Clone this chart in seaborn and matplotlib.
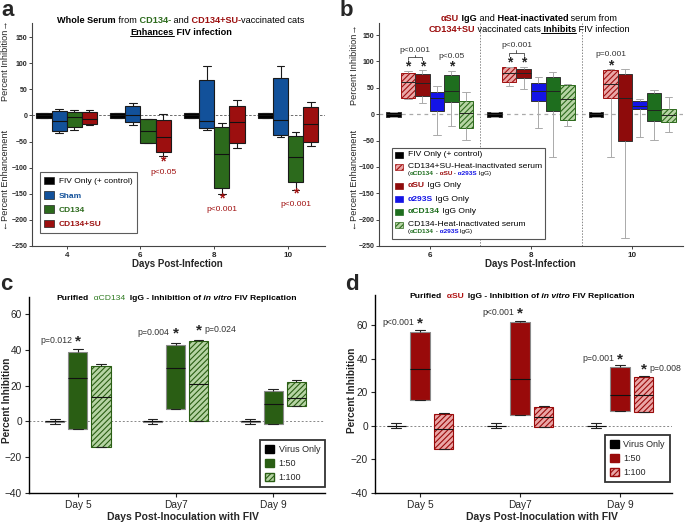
import numpy as np
import pandas as pd
import matplotlib.pyplot as plt
import seaborn as sns
from matplotlib.patches import Patch, Rectangle
from matplotlib.lines import Line2D
from matplotlib.colors import to_rgb

# ---------------- data: each box = (whisker low, Q1, median, Q3, whisker high) ----------------
# panel a - whole serum
a_days = ['4', '6', '8', '10']
a_fiv = [(-4.5, -4.5, 0, 4.5, 4.5), (-4.5, -4.5, 0, 4.5, 4.5), (-4.5, -4.5, 0, 4.5, 4.5), (-4.5, -4.5, 0, 4.5, 4.5)]
a_sham = [(-34.5, -30, -11, 8, 12), (-18.6, -13.4, 0.6, 18.4, 23), (-28, -24, -11, 67, 94), (-42, -36.5, -8, 72, 94)]
a_cd134 = [(-28, -22, -2.6, 6, 10), (-53, -52, -30, -7.7, -7.7), (-151, -139, -74, -22, -14), (-142, -128, -79, -40, -31)]
a_cd134su = [(-18, -17, -7.7, 6.6, 10), (-78, -70, -42, -9, 2), (-63, -52, -13.5, 18.6, 29.5), (-58, -51, -17, 16, 25)]

# panel b - IgG and heat-inactivated serum
b_days = ['6', '8', '10']
b_fiv = [(-4.5, -4.5, 0, 4.5, 4.5), (-4.5, -4.5, 0, 4.5, 4.5), (-4.5, -4.5, 0, 4.5, 4.5)]
b_hi_su = [(29.4, 30.7, 61, 78.7, 82.5), (54, 62, 79, 89, 89), (-82, 31, 58, 84.5, 86)]
b_asu = [(21.8, 34.5, 60, 76, 84), (48, 68.7, 78, 86, 89), (-234, -50, 30, 77, 86)]
b_a293s = [(-39, 5.4, 30.7, 42.7, 53.5), (-26, 25, 44.6, 58.5, 71), (-44, 9, 16, 25, 28)]
b_acd134 = [(-21.8, 23.7, 44.6, 73.7, 82.5), (-80.6, 5.3, 44.6, 71, 81), (-49, -13, 8.5, 41, 46)]
b_hi_cd134 = [(-49, -27, 1.5, 25, 41.4), (-22, -11, 29, 54.7, 57), (-34.5, -15.5, -1, 10, 32)]

# panel c - purified aCD134 IgG
c_days = ['Day 5', 'Day7', 'Day 9']
c_virus = [(-1.5, -0.2, 0, 0.2, 1.5), (-1.5, -0.2, 0, 0.2, 1.5), (-1.5, -0.2, 0, 0.2, 1.5)]
c_50 = [(-4, -4, 24, 38.8, 40.3), (7.2, 7.2, 29.7, 42.8, 43.7), (-1.5, -1.5, 9.7, 17, 18)]
c_100 = [(-14.5, -14.5, 13.4, 31, 31.8), (0.5, 0.5, 20.8, 44.8, 45.5), (8.4, 8.4, 13.2, 22, 23.2)]

# panel d - purified aSU IgG
d_days = ['Day 5', 'Day7', 'Day 9']
d_virus = [(-1.5, -0.2, 0, 0.2, 1.5), (-1.5, -0.2, 0, 0.2, 1.5), (-1.5, -0.2, 0, 0.2, 1.5)]
d_50 = [(15.3, 15.3, 34, 56, 57), (6.4, 6.4, 28, 62.2, 62.6), (9, 9, 18.3, 35.2, 36)]
d_100 = [(-14, -14, -2, 6.8, 7.8), (-0.6, -0.6, 5.4, 11.3, 12), (8, 8, 18.7, 29.2, 30)]

# colours
BLACK = '#000000'
SHAM_BLUE = '#12519a'
GREEN = '#2c6a1c'
RED = '#9c0f0f'
BRIGHT_BLUE = '#1414e6'
PINK = '#eaa6a6'
PALE_GREEN = '#b6d4a4'
C_GREEN = '#2a5e14'

W, H = 685, 523

sns.set_style('ticks')
plt.rcParams['font.family'] = ['Liberation Sans', 'DejaVu Sans']
plt.rcParams['hatch.linewidth'] = 0.8


def long_table(days, series):
    rows = []
    for name, stats in series.items():
        for day, five in zip(days, stats):
            for v in five:
                rows.append((day, name, v))
    return pd.DataFrame(rows, columns=['day', 'group', 'value'])


def draw_boxes(ax, df, days, palette, width, gap, edge, whisker, median, lw=0.8):
    sns.boxplot(data=df, x='day', y='value', hue='group', order=days,
                hue_order=list(palette.keys()), palette=palette, width=width, gap=gap,
                whis=(0, 100), saturation=1, linewidth=lw, linecolor=edge, fliersize=0,
                whiskerprops=dict(color=whisker), capprops=dict(color=whisker),
                medianprops=dict(color=median), legend=False, ax=ax)


def add_hatch(ax, face, hatch_color):
    for p in ax.patches:
        if np.allclose(p.get_facecolor()[:3], to_rgb(face), atol=0.01):
            p.set_hatch('//////')
            p.set_edgecolor(hatch_color)


def offset(i, n, width):
    return -width / 2 + width / n * (i + 0.5)


def rect(l, t, r, b):
    return [l / W, 1 - b / H, (r - l) / W, (b - t) / H]


def rich_text(fig, x, y, parts, size, ha='center'):
    # parts: (text, colour, weight, style); x, y in figure pixels from top-left
    r = fig.canvas.get_renderer()
    texts = [fig.text(0, 1 - y / H, s, fontsize=size, color=c, fontweight=w, fontstyle=st,
                      ha='left', va='center', zorder=5) for s, c, w, st in parts]
    widths = [t.get_window_extent(r).width for t in texts]
    x0 = x - sum(widths) / 2 if ha == 'center' else x
    for t, w in zip(texts, widths):
        t.set_x(x0 / W)
        x0 += w
    return texts


def underline(fig, t):
    bb = t.get_window_extent(fig.canvas.get_renderer())
    fig.add_artist(Line2D([bb.x0 / W, bb.x1 / W], [(bb.y0 + 0.6) / H] * 2,
                          transform=fig.transFigure, color='k', lw=0.7))


fig = plt.figure(figsize=(W / 100, H / 100), dpi=100)
ax_a = fig.add_axes(rect(32, 23, 325, 246))
ax_b = fig.add_axes(rect(379, 23, 683, 246))
ax_c = fig.add_axes(rect(29, 297, 325, 493))
ax_d = fig.add_axes(rect(375, 295, 672, 493))

# ---------------- panel a ----------------
pal_a = {'FIV Only (+ control)': BLACK, 'Sham': SHAM_BLUE, 'CD134': GREEN, 'CD134+SU': RED}
df_a = long_table(a_days, dict(zip(pal_a.keys(), [a_fiv, a_sham, a_cd134, a_cd134su])))
ax_a.axhline(0, color='#555555', lw=0.6, ls=(0, (3, 2)), zorder=0)
draw_boxes(ax_a, df_a, a_days, pal_a, 0.82, 0, '#1a1a1a', '#1a1a1a', '#111111')
ax_a.set_xlim(-0.47, 3.5)
ax_a.set_ylim(-250, 177)
ax_a.set_yticks(np.arange(-250, 151, 50))

for day, idx, ys, yp, txt in [(1, 3, -89, -110, 'p<0.05'), (2, 2, -159, -181, 'p<0.001'),
                              (3, 2, -150, -171, 'p<0.001')]:
    xx = day + offset(idx, 4, 0.82)
    ax_a.text(xx, ys, '*', color='#a01010', fontsize=10, fontweight='bold', ha='center', va='center')
    ax_a.text(xx, yp, txt, color='#a01010', fontsize=6, ha='center', va='center')

handles_a = [Patch(facecolor=c, edgecolor='#222222', lw=0.5) for c in pal_a.values()]
leg_a = ax_a.legend(handles_a, list(pal_a.keys()), loc='lower left', bbox_to_anchor=(0.027, 0.058),
                    borderaxespad=0, fontsize=6, frameon=True, fancybox=False, handlelength=1.1,
                    handleheight=1.0, labelspacing=0.7, borderpad=0.55, handletextpad=0.6)
leg_a.get_frame().set_edgecolor('#333333')
leg_a.get_frame().set_linewidth(0.8)
for t, c in zip(leg_a.get_texts(), pal_a.values()):
    t.set_color(c)
    if c != BLACK:
        t.set_fontweight('bold')

# ---------------- panel b ----------------
pal_b = {'FIV': BLACK, 'HI CD134+SU': PINK, 'aSU': '#8e0b0b', 'a293S': BRIGHT_BLUE,
         'aCD134': '#1e6e1e', 'HI CD134': PALE_GREEN}
df_b = long_table(b_days, dict(zip(pal_b.keys(), [b_fiv, b_hi_su, b_asu, b_a293s, b_acd134, b_hi_cd134])))
ax_b.axhline(0, color='#aaaaaa', lw=0.9, ls=(0, (3, 3)), zorder=0)
for xv in [0.5, 1.5]:
    ax_b.axvline(xv, color='#888888', lw=0.7, ls=(0, (1.5, 1.5)), zorder=0)
draw_boxes(ax_b, df_b, b_days, pal_b, 0.86, 0, '#333333', '#aaaaaa', '#222222', lw=0.7)
add_hatch(ax_b, PINK, '#a01010')
add_hatch(ax_b, PALE_GREEN, '#2c6a1c')
ax_b.set_xlim(-0.5, 2.5)
ax_b.set_ylim(-250, 173)
ax_b.set_yticks(np.arange(-250, 151, 50))

# significance marks
for day, idx, ys in [(0, 1, 91), (0, 2, 91), (0, 4, 91), (1, 1, 99), (1, 2, 99), (2, 1, 93)]:
    ax_b.text(day + offset(idx, 6, 0.86), ys, '*', fontsize=10, fontweight='bold', ha='center', va='center')
for day, yb, yt, ytxt in [(0, 102, 109, 121), (1, 110, 117, 131)]:
    x1, x2 = day + offset(1, 6, 0.86), day + offset(2, 6, 0.86)
    xm = (x1 + x2) / 2
    ax_b.plot([x1, x1, x2, x2], [yb, yt, yt, yb], color='#444444', lw=0.6)
    ax_b.plot([xm, xm], [yt, yt + 4], color='#444444', lw=0.6)
    ax_b.text(xm, ytxt, 'p<0.001', fontsize=6, color='#333333', ha='center', va='center')
ax_b.text(offset(4, 6, 0.86), 110, 'p<0.05', fontsize=6, color='#333333', ha='center', va='center')
ax_b.text(2 + offset(1, 6, 0.86), 113, 'p=0.001', fontsize=6, color='#333333', ha='center', va='center')

# ---------------- panel c ----------------
pal_c = {'Virus Only': BLACK, '1:50': C_GREEN, '1:100': PALE_GREEN}
df_c = long_table(c_days, dict(zip(pal_c.keys(), [c_virus, c_50, c_100])))
ax_c.axhline(0, color='#888888', lw=0.7, ls=(0, (2, 2)), zorder=0)
draw_boxes(ax_c, df_c, c_days, pal_c, 0.71, 0.17, '#8a8a8a', '#222222', '#111111')
add_hatch(ax_c, PALE_GREEN, C_GREEN)
ax_c.set_xlim(-0.5, 2.53)
ax_c.set_ylim(-40, 69.5)
ax_c.set_yticks(np.arange(-40, 61, 20))

for day, idx, ys, txt, side in [(0, 1, 44.6, 'p=0.012', 'left'), (1, 1, 48.9, 'p=0.004', 'left'),
                                (1, 2, 50.6, 'p=0.024', 'right')]:
    xx = day + offset(idx, 3, 0.71)
    ax_c.text(xx, ys, '*', fontsize=11, fontweight='bold', ha='center', va='center')
    if side == 'left':
        ax_c.text(xx - 0.06, ys + 0.5, txt, fontsize=6.3, color='#333333', ha='right', va='center')
    else:
        ax_c.text(xx + 0.06, ys + 0.5, txt, fontsize=6.3, color='#333333', ha='left', va='center')

# ---------------- panel d ----------------
pal_d = {'Virus Only': BLACK, '1:50': '#990a0a', '1:100': PINK}
df_d = long_table(d_days, dict(zip(pal_d.keys(), [d_virus, d_50, d_100])))
ax_d.axhline(0, color='#888888', lw=0.7, ls=(0, (2, 2)), zorder=0)
draw_boxes(ax_d, df_d, d_days, pal_d, 0.71, 0.17, '#8a8a8a', '#222222', '#111111')
add_hatch(ax_d, PINK, '#990a0a')
ax_d.set_xlim(-0.45, 2.52)
ax_d.set_ylim(-40, 78)
ax_d.set_yticks(np.arange(-40, 61, 20))

for day, idx, ys, txt, side in [(0, 1, 61, 'p<0.001', 'left'), (1, 1, 67, 'p<0.001', 'left'),
                                (2, 1, 39.6, 'p=0.001', 'left'), (2, 2, 33.6, 'p=0.008', 'right')]:
    xx = day + offset(idx, 3, 0.71)
    ax_d.text(xx, ys, '*', fontsize=11, fontweight='bold', ha='center', va='center')
    if side == 'left':
        ax_d.text(xx - 0.06, ys + 0.5, txt, fontsize=6.3, color='#333333', ha='right', va='center')
    else:
        ax_d.text(xx + 0.06, ys + 0.5, txt, fontsize=6.3, color='#333333', ha='left', va='center')

for ax, pal, hatch_face, hatch_col, anchor in [(ax_c, pal_c, PALE_GREEN, C_GREEN, (1.0, 0.03)),
                                               (ax_d, pal_d, PINK, '#990a0a', (0.993, 0.056))]:
    hs = [Patch(facecolor=BLACK, edgecolor=BLACK),
          Patch(facecolor=list(pal.values())[1], edgecolor=list(pal.values())[1]),
          Patch(facecolor=hatch_face, edgecolor=hatch_col, hatch='//////')]
    leg = ax.legend(hs, list(pal.keys()), loc='lower right', bbox_to_anchor=anchor, borderaxespad=0,
                    fontsize=6.5, frameon=True, fancybox=False, handlelength=1.0, handleheight=1.0,
                    labelspacing=0.55, borderpad=0.55, handletextpad=0.5)
    leg.get_frame().set_edgecolor('black')
    leg.get_frame().set_linewidth(1.3)

# ---------------- axes styling ----------------
for ax in [ax_a, ax_b]:
    sns.despine(ax=ax)
    for s in ['left', 'bottom']:
        ax.spines[s].set_color('#444444')
        ax.spines[s].set_linewidth(0.8)
    ax.tick_params(axis='y', labelsize=5, length=2, width=0.6, pad=1.5)
    ax.tick_params(axis='x', labelsize=5.8, length=2, width=0.6, pad=2)
    for lab in ax.get_yticklabels() + ax.get_xticklabels():
        lab.set_fontweight('bold')
    ax.set_ylabel('')
    ax.set_xlabel('Days Post-Infection', fontsize=7, fontweight='bold', va='center')

ax_a.xaxis.set_label_coords(0.495, -0.08)
ax_b.xaxis.set_label_coords(0.499, -0.08)
ax_a.text(-0.092, 104, 'Percent Inhibition\u2192', transform=ax_a.get_yaxis_transform(), rotation=90,
          fontsize=6.6, ha='center', va='center')
ax_a.text(-0.092, -124, '\u2190Percent Enhancement', transform=ax_a.get_yaxis_transform(), rotation=90,
          fontsize=6.6, ha='center', va='center')
ax_b.text(-0.079, 93, 'Percent Inhibition\u2192', transform=ax_b.get_yaxis_transform(), rotation=90,
          fontsize=6.6, ha='center', va='center')
ax_b.text(-0.079, -125, '\u2190Percent Enhancement', transform=ax_b.get_yaxis_transform(), rotation=90,
          fontsize=6.6, ha='center', va='center')

for ax, xc, yc in [(ax_c, 0.52, -0.121), (ax_d, 0.562, -0.12)]:
    sns.despine(ax=ax)
    for s in ['left', 'bottom']:
        ax.spines[s].set_color('black')
        ax.spines[s].set_linewidth(1.0)
    ax.tick_params(labelsize=7.3, length=3, width=0.8, pad=2)
    ax.set_xlabel('Days Post-Inoculation with FIV', fontsize=7.5, fontweight='bold', va='center')
    ax.xaxis.set_label_coords(xc, yc)
    ax.set_ylabel('')

ax_c.text(-0.074, 0.474, 'Percent Inhibition', transform=ax_c.transAxes, rotation=90,
          fontsize=7.3, fontweight='bold', ha='center', va='center')
ax_d.text(-0.078, 0.52, 'Percent Inhibition', transform=ax_d.transAxes, rotation=90,
          fontsize=7.3, fontweight='bold', ha='center', va='center')

# ---------------- titles ----------------
rich_text(fig, 181, 20.7, [('Whole Serum', BLACK, 'bold', 'normal'), (' from', BLACK, 'normal', 'normal'),
                           (' CD134-', GREEN, 'bold', 'normal'), (' and', BLACK, 'normal', 'normal'),
                           (' CD134+SU-', RED, 'bold', 'normal'), ('vaccinated cats', BLACK, 'normal', 'normal')], 6.6)
t_a2 = rich_text(fig, 181, 32.3, [('Enhances', BLACK, 'bold', 'normal'), (' FIV infection', BLACK, 'bold', 'normal')], 6.6)
underline(fig, t_a2[0])

rich_text(fig, 529, 18.3, [('\u03b1SU', RED, 'bold', 'normal'), (' IgG', BLACK, 'bold', 'normal'),
                           (' and', BLACK, 'normal', 'normal'), (' Heat-inactivated', BLACK, 'bold', 'normal'),
                           (' serum from', BLACK, 'normal', 'normal')], 6.6)
t_b2 = rich_text(fig, 529, 29.3, [('CD134+SU', RED, 'bold', 'normal'), (' vaccinated cats', BLACK, 'normal', 'normal'),
                                  (' Inhibits', BLACK, 'bold', 'normal'), (' FIV infection', BLACK, 'normal', 'normal')], 6.6)
underline(fig, t_b2[2])

rich_text(fig, 176.7, 298.3, [('Purified', BLACK, 'bold', 'normal'), ('  \u03b1CD134', '#2e7a20', 'normal', 'normal'),
                              ('  IgG - Inhibition of', BLACK, 'bold', 'normal'), (' in vitro', BLACK, 'bold', 'italic'),
                              (' FIV Replication', BLACK, 'bold', 'normal')], 6.1)
rich_text(fig, 522, 296, [('Purified', BLACK, 'bold', 'normal'), ('  \u03b1SU', '#b01010', 'bold', 'normal'),
                          ('  IgG - Inhibition of', BLACK, 'bold', 'normal'), (' in vitro', BLACK, 'bold', 'italic'),
                          (' FIV Replication', BLACK, 'bold', 'normal')], 6.1)

# ---------------- legend of panel b (drawn by hand for the coloured sub-lines) ----------------
fig.add_artist(Rectangle((392 / W, 1 - 239 / H), (545 - 392) / W, (239 - 148) / H, transform=fig.transFigure,
                         facecolor='white', edgecolor='#555555', lw=0.8, zorder=2))
rows_b = [
    (155, BLACK, None, [('FIV Only (+ control)', BLACK, 'normal', 'normal')]),
    (166.7, PINK, '#a01010', [('CD134+SU-Heat-inactivated serum', BLACK, 'normal', 'normal')]),
    (185.7, '#8e0b0b', None, [('\u03b1SU', RED, 'bold', 'normal'), (' IgG Only', BLACK, 'normal', 'normal')]),
    (199.3, BRIGHT_BLUE, None, [('\u03b1293S', BRIGHT_BLUE, 'bold', 'normal'), (' IgG Only', BLACK, 'normal', 'normal')]),
    (211.7, '#1e6e1e', None, [('\u03b1CD134', '#1e6e1e', 'bold', 'normal'), (' IgG Only', BLACK, 'normal', 'normal')]),
    (225, PALE_GREEN, '#2c6a1c', [('CD134-Heat-inactivated serum', BLACK, 'normal', 'normal')]),
]
for y, face, hcol, parts in rows_b:
    fig.add_artist(Rectangle((395 / W, 1 - (y + 3) / H), 8 / W, 6 / H, transform=fig.transFigure,
                             facecolor=face, edgecolor=hcol or face, hatch='//////' if hcol else None,
                             lw=0.5, zorder=3))
    rich_text(fig, 408, y, parts, 6.1, ha='left')
rich_text(fig, 408, 173.3, [('(', BLACK, 'normal', 'normal'), ('\u03b1CD134', '#1e6e1e', 'bold', 'normal'),
                            (' -', BLACK, 'normal', 'normal'), (' \u03b1SU', RED, 'bold', 'normal'),
                            (' -', BLACK, 'normal', 'normal'), (' \u03b1293S', BRIGHT_BLUE, 'bold', 'normal'),
                            (' IgG)', BLACK, 'normal', 'normal')], 4.6, ha='left')
rich_text(fig, 408, 231.7, [('(', BLACK, 'normal', 'normal'), ('\u03b1CD134', '#1e6e1e', 'bold', 'normal'),
                            (' -', BLACK, 'normal', 'normal'), (' \u03b1293S', BRIGHT_BLUE, 'bold', 'normal'),
                            (' IgG)', BLACK, 'normal', 'normal')], 4.6, ha='left')

# ---------------- panel letters ----------------
for lab, x, y in [('a', 1, 0), ('b', 340, 0), ('c', 0, 274), ('d', 345, 274)]:
    fig.text(x / W, 1 - y / H, lab, fontsize=16, fontweight='bold', ha='left', va='top')

fig.savefig('out.png', dpi=100)
